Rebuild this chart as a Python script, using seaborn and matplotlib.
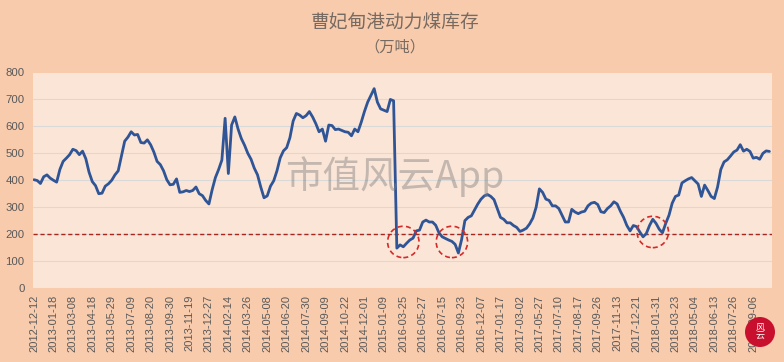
import numpy as np
import pandas as pd
import matplotlib
matplotlib.use("Agg")
import matplotlib.pyplot as plt
import seaborn as sns
from matplotlib.patches import Ellipse

# tick labels (one every 6 points)
tick_dates = [
    "2012-12-12", "2013-01-18", "2013-03-08", "2013-04-18", "2013-05-29", "2013-07-09",
    "2013-08-20", "2013-09-30", "2013-11-19", "2013-12-27", "2014-02-14", "2014-03-26",
    "2014-05-08", "2014-06-20", "2014-07-30", "2014-09-09", "2014-10-22", "2014-12-01",
    "2015-01-09", "2016-03-25", "2016-05-27", "2016-07-15", "2016-09-23", "2016-12-07",
    "2017-01-17", "2017-03-02", "2017-05-27", "2017-07-10", "2017-08-17", "2017-09-26",
    "2017-11-13", "2017-12-21", "2018-01-31", "2018-03-23", "2018-05-04", "2018-06-13",
    "2018-07-26", "2018-09-06",
]
tick_step = 6

# stock, 10k tonnes
stock_a = [402, 399, 388, 413, 420, 408, 400, 393, 440, 470, 482, 495, 515, 510, 495, 508,
           480, 430, 395, 380, 350, 352, 378, 387, 400, 420, 435, 490, 545, 560, 580, 568,
           570, 540, 538, 550, 532, 505, 470]
stock_b = [458, 435, 402, 383, 385, 405, 355, 357, 362, 358, 362, 375, 350, 343, 325, 312,
           365, 410, 440, 475, 630, 425, 605, 635, 590, 555, 530, 500, 478, 445, 420, 375,
           335, 342, 378, 398, 435, 483, 509, 521]
stock_c = [558, 620, 648, 642, 632, 640, 655, 635, 610, 580, 590, 545, 605, 603, 588, 590,
           585, 580, 578, 565, 590, 580, 615, 655, 690, 715, 740, 690, 665, 660, 655, 700,
           695, 148, 160, 153, 166, 178, 185, 212]
stock_d = [215, 245, 252, 245, 245, 233, 205, 190, 184, 178, 173, 162, 130, 180, 250, 262,
           268, 290, 312, 330, 342, 347, 340, 328, 295, 262, 255, 242, 242, 232, 225, 210,
           215, 222, 238, 260, 300, 368, 355, 330]
stock_e = [325, 305, 305, 295, 270, 245, 245, 292, 282, 276, 282, 285, 305, 315, 318, 310,
           283, 280, 295, 305, 320, 312, 285, 262, 232, 212, 232, 228, 208, 190, 202, 232,
           255, 240, 218, 205, 240, 270, 315, 340]
stock_f = [345, 390, 398, 405, 410, 398, 386, 340, 382, 362, 340, 332, 375, 440, 468, 476,
           490, 505, 512, 532, 508, 515, 507, 482, 485, 478, 500, 509, 507]
coal_stock = stock_a + stock_b + stock_c + stock_d + stock_e + stock_f

warn_level = 200
# circled lows: point index and value
circle_idx = [114, 129, 191]
circle_val = [171, 171, 208]
circle_radius_px = 15.7

df = pd.DataFrame({"idx": np.arange(len(coal_stock)), "stock": coal_stock})

sns.set_style("white")
plt.rcParams["font.family"] = ["Noto Sans CJK SC", "DejaVu Sans"]

fig = plt.figure(figsize=(7.84, 3.62), dpi=100, facecolor="#F8CBAD")
ax = fig.add_axes([33 / 784, 1 - 288 / 362, (772 - 33) / 784, (288 - 72.5) / 362])
ax.set_facecolor("#FBE5D6")

sns.lineplot(data=df, x="idx", y="stock", ax=ax, color="#2F5597", linewidth=2.0, zorder=3)
ax.axhline(warn_level, color="#A8261A", linestyle=(0, (3, 2)), linewidth=1.0, zorder=2)

ax.set_xlim(-0.3, 227.8)
ax.set_ylim(0, 800)
ax.set_yticks(range(0, 801, 100))
ax.yaxis.grid(True, color="#D9D9D9", linewidth=0.8)
ax.xaxis.grid(False)
for s in ax.spines.values():
    s.set_visible(False)

ticks = np.arange(0, len(tick_dates) * tick_step, tick_step)
ax.set_xticks(ticks)
ax.set_xticklabels(tick_dates, rotation=90, fontsize=8, color="#595959",
                   fontfamily="Liberation Sans")
ax.set_yticklabels([str(v) for v in range(0, 801, 100)], fontsize=8.2, color="#595959",
                   fontfamily="Liberation Sans")
ax.tick_params(axis="x", length=0, pad=5)
ax.tick_params(axis="y", length=0, pad=6)
ax.set_xlabel("")
ax.set_ylabel("")

# dashed circles around the lows
px_x = ax.bbox.width / (ax.get_xlim()[1] - ax.get_xlim()[0])
px_y = ax.bbox.height / (ax.get_ylim()[1] - ax.get_ylim()[0])
for ci, cv in zip(circle_idx, circle_val):
    ax.add_patch(Ellipse((ci, cv), 2 * circle_radius_px / px_x, 2 * circle_radius_px / px_y,
                         fill=False, edgecolor="#D42A2A", linestyle=(0, (3, 2)),
                         linewidth=1.2, zorder=4))

# title
fig.text(0.504, 1 - 23.5 / 362, "曹妃甸港动力煤库存", ha="center", va="center",
         fontsize=13.5, color="#776A60")
fig.text(0.504, 1 - 47 / 362, "（万吨）", ha="center", va="center",
         fontsize=11, color="#776A60")

# watermark
fig.text(395 / 784, 1 - 177 / 362, "市值风云App", ha="center", va="center",
         fontsize=27, color="#808080", alpha=0.45, zorder=5)

# logo
fig.patches.append(Ellipse((760 / 784, 1 - 332 / 362), 30 / 784, 30 / 362,
                           transform=fig.transFigure, facecolor="#C8102E",
                           edgecolor="none", zorder=10))
fig.text(760 / 784, 1 - 332 / 362, "风\n云", ha="center", va="center", fontsize=6.5,
         linespacing=1.0, color="white", zorder=11)

fig.savefig("out.png", dpi=100, facecolor=fig.get_facecolor())
